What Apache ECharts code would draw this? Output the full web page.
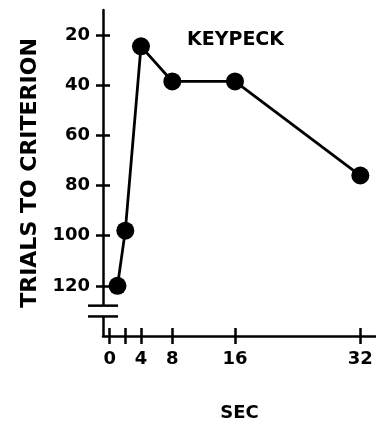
<!DOCTYPE html>
<html><head><meta charset="utf-8">
<script src="https://cdn.jsdelivr.net/npm/echarts@6/dist/echarts.min.js"></script>
<style>html,body{margin:0;padding:0;background:#fff}#c{width:376px;height:427px}</style>
</head><body><div id="c"></div>
<script>
const seconds = [1, 2, 4, 8, 16, 32];
const trials = [120, 98, 24.5, 38.5, 38.5, 76];
const xTickValues = [0, 2, 4, 8, 16, 32];
const xLabelValues = [0, 4, 8, 16, 32];
const yTickValues = [20, 40, 60, 80, 100, 120];
const breakValues = [127.9, 132.2];

const chart = echarts.init(document.getElementById('c'), null, {renderer: 'canvas'});
const FONT = 'DejaVu Sans';
const INK = '#000';
const lineStyle = {color: INK, width: 2.5};
const xBase = {
  type: 'value', min: -0.85, max: 34, position: 'bottom',
  splitLine: {show: false}
};
const yBase = {
  type: 'value', min: 10, max: 140, inverse: true, position: 'left',
  splitLine: {show: false}
};
chart.setOption({
  animation: false,
  backgroundColor: '#fff',
  title: {
    text: 'KEYPECK', left: 187, top: 31, padding: 0,
    textStyle: {fontFamily: FONT, fontWeight: 'bold', fontSize: 19, color: INK}
  },
  grid: {left: 103, right: -9, top: 10, bottom: 85, containLabel: false},
  xAxis: [
    Object.assign({}, xBase, {
      name: 'SEC', nameLocation: 'middle', nameGap: 68,
      nameTextStyle: {fontFamily: FONT, fontWeight: 'bold', fontSize: 18, color: INK},
      axisLine: {show: true, onZero: false, lineStyle: lineStyle},
      axisTick: {show: true, customValues: xTickValues, length: 8, lineStyle: lineStyle},
      axisLabel: {show: true, customValues: xLabelValues, margin: 14,
        fontFamily: FONT, fontWeight: 'bold', fontSize: 18, color: INK}
    }),
    Object.assign({}, xBase, {
      axisLine: {show: false, onZero: false},
      axisTick: {show: true, inside: true, customValues: xTickValues, length: 8, lineStyle: lineStyle},
      axisLabel: {show: false}
    })
  ],
  yAxis: [
    Object.assign({}, yBase, {
      name: 'TRIALS TO CRITERION', nameLocation: 'middle', nameGap: 62, nameRotate: 90,
      nameTextStyle: {fontFamily: FONT, fontWeight: 'bold', fontSize: 22, color: INK},
      axisLine: {show: true, onZero: false, lineStyle: lineStyle},
      axisTick: {show: true, customValues: yTickValues, length: 7, lineStyle: lineStyle},
      axisLabel: {show: true, customValues: yTickValues, margin: 13,
        fontFamily: FONT, fontWeight: 'bold', fontSize: 18, color: INK}
    }),
    Object.assign({}, yBase, {
      axisLine: {show: false, onZero: false},
      axisTick: {show: true, inside: true, customValues: yTickValues, length: 7, lineStyle: lineStyle},
      axisLabel: {show: false}
    })
  ],
  series: [{
    type: 'line',
    xAxisIndex: 0, yAxisIndex: 0,
    data: seconds.map((s, i) => [s, trials[i]]),
    symbol: 'circle', symbolSize: 18,
    itemStyle: {color: INK},
    lineStyle: {color: INK, width: 2.8}
  }]
});

// axis break decoration positioned through the axis scale
const p1 = chart.convertToPixel({xAxisIndex: 0, yAxisIndex: 0}, [-0.85, breakValues[0]]);
const p2 = chart.convertToPixel({xAxisIndex: 0, yAxisIndex: 0}, [-0.85, breakValues[1]]);
chart.setOption({
  graphic: [
    {type: 'rect', shape: {x: p1[0] - 3, y: p1[1], width: 6, height: p2[1] - p1[1]},
     style: {fill: '#fff'}, z: 100},
    {type: 'line', shape: {x1: p1[0] - 15, y1: p1[1], x2: p1[0] + 15, y2: p1[1]},
     style: {stroke: INK, lineWidth: 2.5}, z: 101},
    {type: 'line', shape: {x1: p2[0] - 15, y1: p2[1], x2: p2[0] + 15, y2: p2[1]},
     style: {stroke: INK, lineWidth: 2.5}, z: 101}
  ]
});
</script></body></html>
